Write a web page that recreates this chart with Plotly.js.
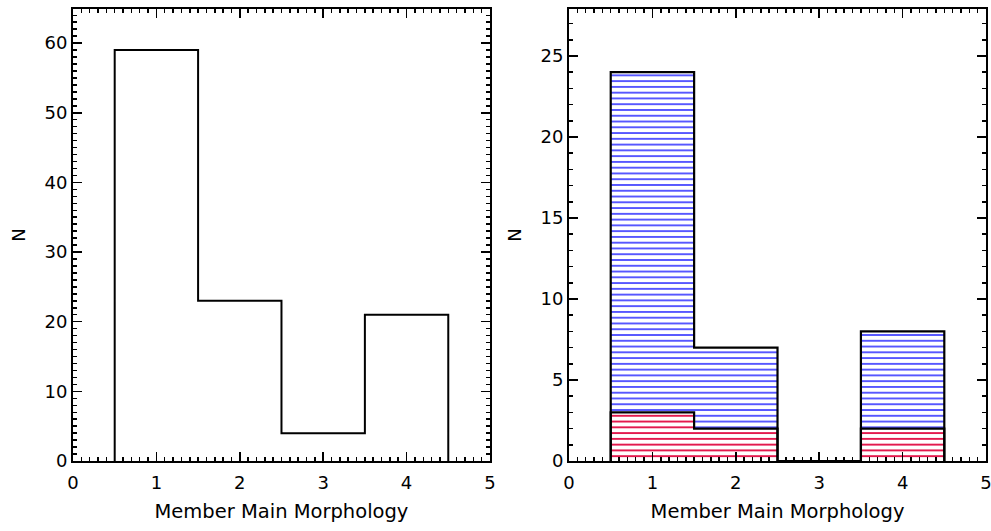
<!DOCTYPE html>
<html>
<head>
<meta charset="utf-8">
<script src="https://cdn.plot.ly/plotly-3.0.1.min.js"></script>
<style>
  html, body { margin: 0; padding: 0; background: #fff; }
  #chart { width: 991px; height: 531px; }
</style>
</head>
<body>
<div id="chart"></div>
<script>
// Morphology classes (bin centres)
const morphClasses = [1, 2, 3, 4];
// All members
const allCounts = [59, 23, 4, 21];
// Subsample: total per class and the red sub-population
const subTotalCounts = [24, 7, 0, 8];
const subRedCounts = [3, 2, 0, 2];
const xTickVals = [0, 1, 2, 3, 4, 5];

const binWidth = 1;
const edges = morphClasses.map(c => c - binWidth / 2).concat([morphClasses[morphClasses.length - 1] + binWidth / 2]);

// Outline of a histogram drawn as a step line (clipped so the baseline merges with the axis)
function stepTrace(counts, xa, ya, width) {
  return {
    type: 'scatter', mode: 'lines',
    x: [edges[0]].concat(edges),
    y: [0].concat(counts, [0]),
    line: { shape: 'hv', color: '#000', width: width },
    xaxis: xa, yaxis: ya, cliponaxis: true, hoverinfo: 'skip', showlegend: false
  };
}

function hatchBars(counts, color, solidity, xa, ya) {
  return {
    type: 'bar', x: morphClasses, y: counts, width: binWidth,
    marker: {
      color: color,
      line: { width: 0 },
      pattern: { shape: '-', size: 5.77, solidity: solidity, fgcolor: color, bgcolor: '#fff', fillmode: 'replace' }
    },
    xaxis: xa, yaxis: ya, hoverinfo: 'skip', showlegend: false
  };
}

const traces = [
  stepTrace(allCounts, 'x', 'y', 2),
  hatchBars(subTotalCounts, '#0000ff', 0.22, 'x2', 'y2'),
  hatchBars(subRedCounts, '#e0003a', 0.3, 'x2', 'y2'),
  stepTrace(subTotalCounts, 'x2', 'y2', 2.2),
  stepTrace(subRedCounts, 'x2', 'y2', 2.2)
];

const fontFam = 'DejaVu Sans, sans-serif';

function xAxis(domain, anchor) {
  return {
    domain: domain, anchor: anchor, range: [0, 5],
    tickvals: xTickVals, ticks: 'inside', ticklen: 9, tickwidth: 1.5, tickcolor: '#000',
    minor: { dtick: 0.1, ticks: 'inside', ticklen: 4, tickwidth: 1.5, tickcolor: '#000', showgrid: false },
    showline: true, linecolor: '#000', linewidth: 2, mirror: 'allticks',
    showgrid: false, zeroline: false, ticklabeloverflow: 'allow', ticklabelstandoff: 4,
    tickfont: { family: fontFam, size: 18, color: '#000' },
    title: { text: 'Member Main Morphology', font: { family: fontFam, size: 19.5, color: '#000' }, standoff: 13 }
  };
}

function yAxis(anchor, range, dtick, minorDtick) {
  return {
    anchor: anchor, range: range, domain: [0, 1],
    dtick: dtick, tick0: 0, ticks: 'inside', ticklen: 9, tickwidth: 1.5, tickcolor: '#000',
    minor: { dtick: minorDtick, ticks: 'inside', ticklen: 4, tickwidth: 1.5, tickcolor: '#000', showgrid: false },
    showline: true, linecolor: '#000', linewidth: 2, mirror: 'allticks',
    showgrid: false, zeroline: false,
    tickfont: { family: fontFam, size: 18, color: '#000' },
    title: { text: 'N', font: { family: fontFam, size: 18, color: '#000' }, standoff: 14 }
  };
}

const layout = {
  width: 991, height: 531,
  margin: { l: 73, r: 5, t: 9, b: 70 },
  paper_bgcolor: '#fff', plot_bgcolor: '#fff',
  barmode: 'overlay', bargap: 0,
  showlegend: false,
  xaxis: xAxis([0, 0.4567], 'y'),
  yaxis: yAxis('x', [0, 64.9], 10, 1),
  xaxis2: xAxis([0.5433, 1], 'y2'),
  yaxis2: yAxis('x2', [0, 27.9], 5, 1)
};

Plotly.newPlot('chart', traces, layout, { displayModeBar: false, staticPlot: true });
</script>
</body>
</html>
